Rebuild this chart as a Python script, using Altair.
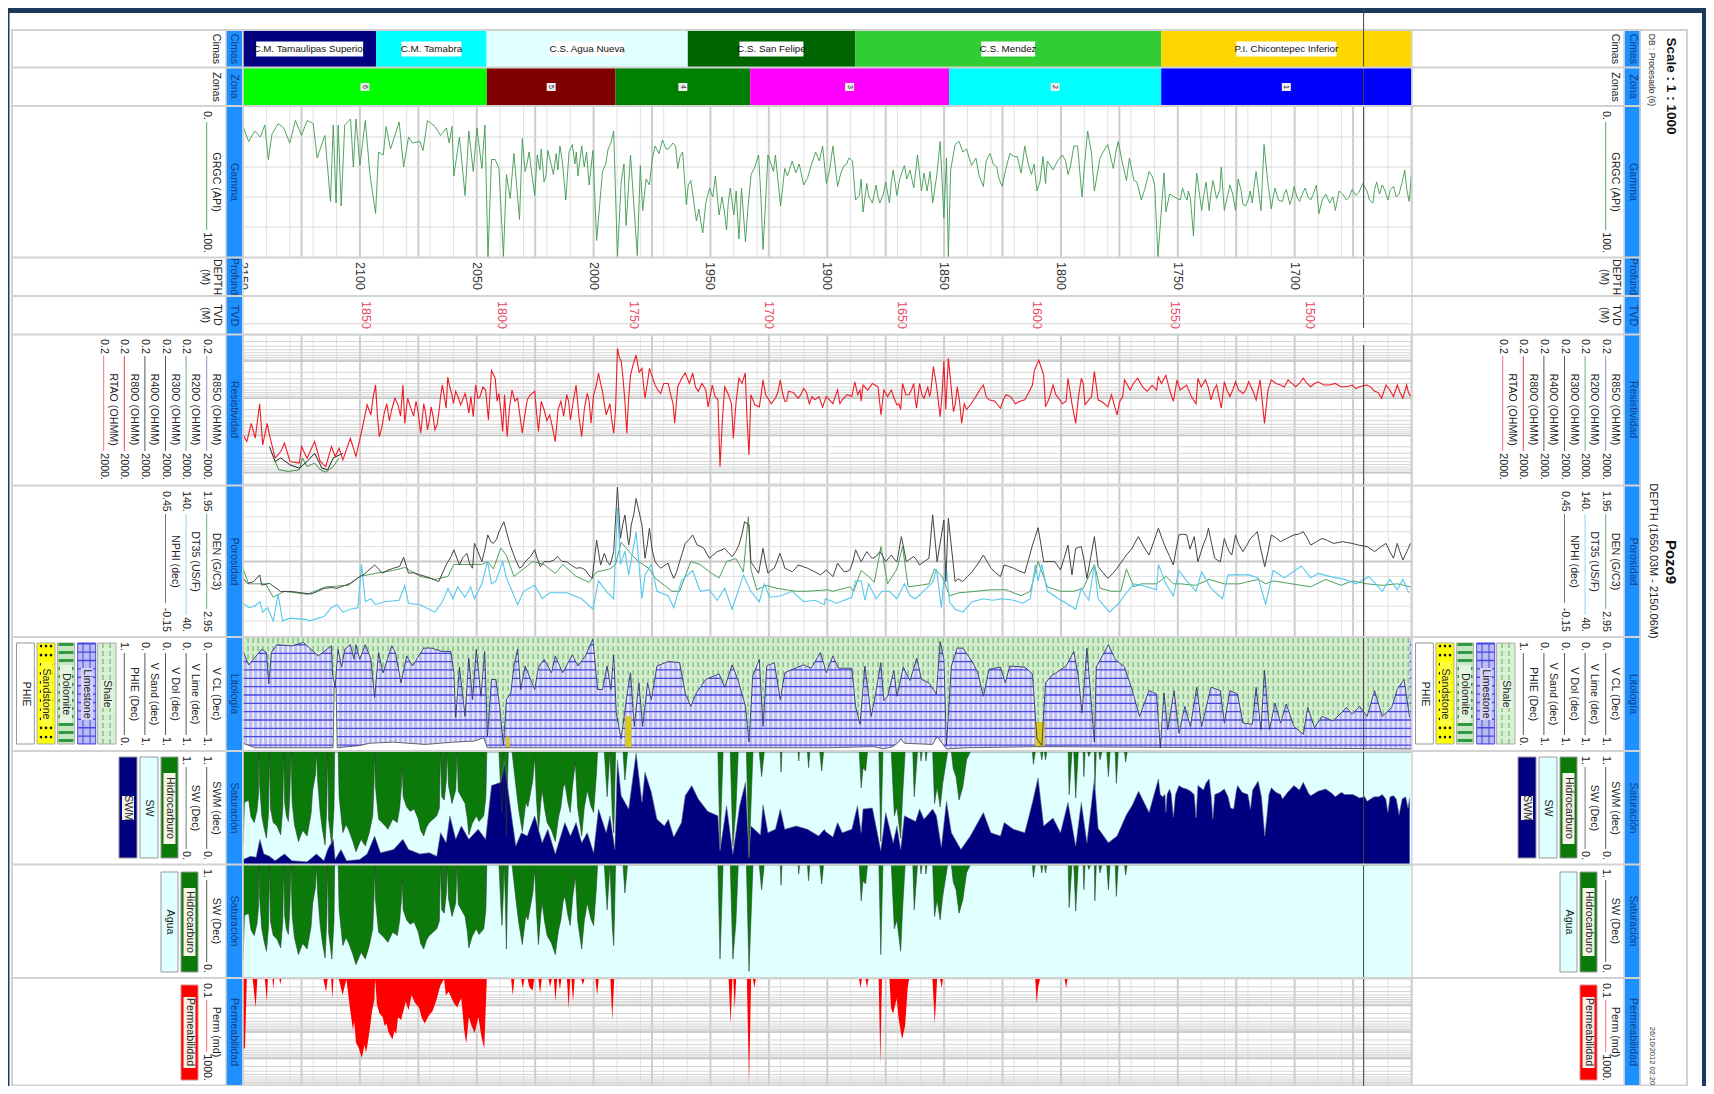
import altair as alt
import numpy as np
import pandas as pd

alt.data_transformers.disable_max_rows()

GR = [(2150,13),(2147.6,23),(2145,16),(2142.6,20),(2140.7,12),(2139.2,35),(2137.6,18),(2135,11),(2132.6,14),(2130,24),(2127.6,9),(2125,19),(2122.6,9),(2120,11),(2118.3,34),(2115,19),(2112.6,63),(2111.4,12),(2110.2,64),(2109.3,12),(2108,66),(2106.5,12),(2104,8),(2102.8,40),(2101.7,8),(2100,39),(2097.7,9),(2095.7,45),(2093.3,71),(2092,30),(2090,32),(2088.8,13),(2086.9,28),(2083.2,10),(2081.3,40),(2079.2,20),(2077.5,24),(2074.3,23),(2073,29),(2071.1,9),(2067.9,13),(2065.5,19),(2063,14),(2061.8,24),(2060.6,13),(2059.8,46),(2057.4,20),(2055,59),(2053.4,16),(2051.5,43),(2049.9,14),(2047.8,41),(2046.5,12),(2045.2,100),(2043.7,35),(2042.1,35),(2040.5,41),(2038.6,100),(2037.3,45),(2035.7,61),(2034.1,31),(2031.7,75),(2030.5,21),(2029.3,43),(2027.6,30),(2025.2,59),(2024.1,32),(2021.2,50),(2019.6,29),(2017.2,45),(2014.4,26),(2011.9,62),(2009.1,25),(2006.7,46),(2005.1,26),(2001.9,52),(2000.3,29),(1998.7,89),(1996.2,43),(1993.8,28),(1991.4,16),(1989.8,100),(1988.2,50),(1986.1,79),(1984.2,32),(1981.3,99),(1980,39),(1979,69),(1976.1,52),(1973.7,26),(1970.5,22),(1968,28),(1964.9,26),(1964,41),(1961.9,30),(1960.3,65),(1958.4,49),(1956,76),(1953.3,84),(1950.4,54),(1947.9,46),(1946.3,72),(1943.1,82),(1941.5,54),(1937.8,88),(1936.7,54),(1935,90),(1932.6,45),(1929.4,32),(1927.5,95),(1925.4,32),(1923,43),(1922.2,32),(1920,66),(1918.2,41),(1915,36),(1910.1,52),(1906.9,39),(1902,26),(1900.4,51),
(1897.6,26),(1895.6,53),(1892.8,39),(1890.8,34),(1889.2,36),(1887.9,62),(1886.3,59),(1884.7,70),(1883.1,51),(1880.7,64),(1879.1,52),(1877.5,64),(1875,50),(1873.4,64),(1871.8,42),(1870.2,59),(1867,39),(1864.6,42),(1863,54),(1861.4,32),(1859.7,56),(1858.6,44),(1857.3,56),(1856,43),(1854.9,64),(1853.1,45),(1851.7,23),(1850.1,74),(1849,34),(1848.2,100),(1847.2,42),(1845.3,25),(1843.6,23),(1840.4,28),(1838.3,39),(1836.4,34),(1833.2,53),(1830.3,31),(1827.5,40),(1825.1,53),(1821.9,31),(1818.7,33),(1817.1,44),(1815.5,26),(1812.6,45),(1810.3,56),(1807.7,33),(1806.6,51),(1805.8,36),(1803.4,42),(1799.4,32),(1797,45),(1794.5,26),(1792.9,26),(1791,60),(1788.6,16),(1785.7,56),(1783.3,34),(1780,25),(1777.6,41),(1775.5,23),(1772,49),(1770.7,34),(1768.8,49),(1765.6,62),(1762.3,43),(1759.9,52),(1758.5,100),(1755.9,44),(1755.1,70),(1753.5,58),(1750.3,61),(1747,59),(1744.6,61),(1743.3,86),(1741.9,44),(1739.8,69),(1737.9,50),(1736.6,69),(1735,49),(1733.4,61),(1731.4,40),(1730.1,69),(1727.7,52),(1725.3,69),(1724.2,48),(1722.1,65),(1719.7,61),(1718.1,64),(1716.5,43),(1714.4,69),(1713.1,25),(1710,68),(1708.4,54),(1705.2,63),(1703.6,55),(1702,65),(1700.3,53),(1697.9,63),(1695.5,54),(1693.1,62),(1690.7,52),(1689.6,71),(1686.7,58),(1682.6,69),(1681,56),(1677.8,62),(1675.4,55),(1673.8,59),(1670.9,51),(1669,56),(1666.5,64),(1664.9,50),(1662.5,52),(1660.1,62),(1657.7,53),(1655.3,58),(1652.9,42),(1651,63),(1650,45)]
GR_FINE = [(2028.5,38),(2026.5,44),(2023,42),(2022.4,28),(2020.4,46),(2018.5,36),(2016,31),(2015.3,42),(2013.4,36),(2010.5,30),(2008,38),(2007.4,30),(2004,40),(2003,30),(1994.8,38),(1992.6,24),(1987,38),(1977.5,48),(1975,36),(1972,31),(1969,28),(1966,24),(1963,33),(1959.5,52),(1957.4,60),(1955,68),(1952,64),(1949,60),(1945,60),(1944,70),(1942.4,64),(1940,72),(1939,56),(1934,68),(1931,40),(1928.4,60),(1926.3,60),(1917,46),(1913.5,44),(1912,38),(1908.4,47),(1905,30),(1903.4,36),(1899,42),(1894.2,44),(1891.7,38),(1885.5,48),(1882.2,60),(1878.3,60),(1876,58),(1872.6,50),(1869,48),(1866,48),(1842,30),(1835,46),(1832,36),(1829,38),(1826.5,48),(1824,44),(1820,33),(1816.3,36),(1814,38),(1811.5,38),(1809,50),(1806.2,42),(1801.5,36),(1798,36),(1796,40),(1790,40),(1787,30),(1782,30),(1781.2,28),(1776.5,30),(1774,35),(1767.5,50),(1764,54),(1761,46),(1749,62),(1748,54),(1746,62),(1745.5,56),(1742.6,60),(1741,55),(1738.8,58),(1736,60),(1732,55),(1728.8,60),(1726.5,58),(1723,55),(1721,66),(1719,56),(1717.3,52),(1711.5,50),(1709.2,60),(1707,62),(1704.5,58),(1701,60),(1699,60),(1696.7,58),(1694.3,60),(1692,58),(1688.2,62),(1685,64),(1683.6,60),(1679.5,58),(1676.6,60),(1674.6,57),(1672.5,57),(1668,62),(1665.8,55),(1663.7,58),(1661.3,56),(1659,55),(1656.5,60),(1654,50),(1652,55)]

RES_RED = [(2150,96),(2148.4,145),(2146.5,47),(2144.8,118),(2142.9,14),(2141.6,178),(2139.7,47),(2138.7,96),(2136.3,405),(2133.9,268),(2132.3,160),(2129.9,498),(2125.9,550),(2125,196),(2122.6,405),(2119.4,145),(2117,498),(2114.6,680),(2112.2,196),(2110.6,365),(2108.9,218),(2107.3,450),(2104.1,118),(2101.7,365),(2099.3,78),(2096.9,15),(2095.3,28),(2093.3,4.4),(2091.7,107),(2089.6,25),(2086.4,20),(2083.7,15),(2081.6,4.4),(2080.8,47),(2078.4,17),(2075.1,23),(2074,87),(2072.7,14),(2071.1,70),(2069.5,17),(2067.9,70),(2066,18.5),(2064.7,4.4),(2063.1,18.5),(2062.4,2.7),(2060.6,8.1),(2059,6.5),(2056.9,15),(2055,7.4),(2053.4,25),(2051.5,31),(2050.5,4.4),(2048.6,9),(2046.2,6),(2045,38),(2043.7,1.8),(2042.1,2.9),(2040.5,7.4),(2038.9,78),(2038.1,8.1),(2037,107),(2034.9,6),(2032.5,10),(2030.5,87),(2028.4,11),(2025.2,6.5),(2023.6,78),(2021.2,20),(2018.8,28),(2016.4,145),(2014,12),(2011.5,8),(2009.9,38),(2007.5,4.4),(2005.1,107),(2002.7,7.4),(2001.1,47),(2000,8),(1997.9,2.1),(1996.2,6.5),(1994.6,28),(1991.4,87),(1989.8,.46),(1988.2,1),(1987.4,2.9),(1985.8,87),(1984.2,2.4),(1981.8,.69),(1979.3,1.57),(1978,10),(1976.1,1.57),(1973.7,4.4),(1971.3,7.4),(1968.1,4),(1965.3,47),(1964,4.9),(1960.8,2.1),(1957.6,2.1),(1955.2,6.5),(1952,6),(1951,17),(1949.2,4.4),(1946.8,11),(1945.9,680),(1943.9,4.9),(1942.3,8),(1940.2,118),(1937.8,2.9),(1935.1,2.1),(1933.5,330),(1932.7,8),(1929.1,17),(1927.5,3.2),(1925.4,10),(1922.2,10),(1920.1,3.2),(1918.2,12),(1916.6,6.5),(1912.5,10),(1910.1,5.4),(1907.7,14),(1905.3,11),(1902,17),(1900.4,9),
(1897.6,14),(1895.6,6),(1893.6,11),(1889.5,9),(1888.2,3.6),(1885.5,12),(1884.7,4.4),(1880.7,4),(1878.3,4.9),(1877,28),(1875.8,6),(1872.6,6),(1870.2,15),(1868.6,20),(1867.8,4),(1865,8),(1863,4),(1861.8,18.5),(1860.5,4),(1858.6,10),(1855.7,6.5),(1854.6,1.4),(1853.3,4.4),(1851.7,31),(1850.1,1),(1849.3,20),(1848.2,.85),(1846,23),(1844.4,4.9),(1842.5,47),(1840.4,20),(1836.4,9),(1833.2,4.4),(1830.8,11),(1825.9,18.5),(1823.5,8),(1819.5,14),(1815.5,11),(1812.2,4.4),(1811.4,1.8),(1809.5,.95),(1807.4,2.4),(1806.6,17),(1803.4,4.4),(1801,10),(1797.8,12),(1797,2.9),(1793.7,47),(1791.3,2.9),(1789.7,15),(1788.1,11),(1785.7,1.9),(1784.1,11),(1780,17),(1778.4,8),(1776,28),(1773.6,9),(1772.8,3.2),(1770.4,6),(1767.2,2.9),(1763.1,6.5),(1759.1,6),(1758.3,2.7),(1755.1,2.4),(1751.9,12),(1750.3,3.2),(1746.2,4.4),(1742.2,14),(1741.4,2.9),(1738.2,3.2),(1735.8,11),(1733.4,4.4),(1731.4,18.5),(1730.1,3.6),(1727.7,9),(1725.3,3.6),(1722.1,7.4),(1719.7,3.6),(1716.5,11),(1714.8,3.2),(1712.9,47),(1710,3.2),(1706,4.4),(1702.8,3.2),(1699.6,4.9),(1696.3,2.9),(1693.1,4.9),(1689.9,3.6),(1685.1,4.4),(1680.2,4.9),(1675.4,4.4),(1672.2,4.9),(1669,4.4),(1665.8,6.5),(1662.8,10),(1660.9,4.4),(1657.7,9),(1656.1,4.4),(1653.7,10),(1652.1,4.4),(1650.4,9)]
RES_FINE = [(2094.3,9),(2092.5,30),(2090.6,60),(2088.5,14),(2087.4,40),(2085,10),(2082.6,30),(2079.6,10),(2077,30),(2076,12),(2073.4,40),(2071.9,25),(2070.3,40),(2068.7,30),(2066.9,50),(2065.4,8),(2061.5,5),(2060,14),(2058,9),(2056,11),(2054.2,12),(2052.5,9),(2049.5,10),(2047.4,5),(2044.4,9),(2041.3,12),(2039.6,25),(2036,18),(2033.7,12),(2031.5,30),(2029.5,30),(2027,8),(2024.4,25),(2022.4,12),(2020,40),(2017.6,60),(2015.2,20),(2012.8,30),(2010.7,12),(2008.7,12),(2006.3,30),(2003.9,18),(2001.9,12),(2000.6,20),(1999,5),(1997,4),(1995.4,14),(1993,14),(1992.2,40),(1990.6,20),(1989,.8),(1986.6,12),(1985,10),(1983,1.2),(1980.5,2),(1978.7,4),(1977,4),(1975,2.5),(1972.5,6),(1970,4),(1967,8),(1966,14),(1962.4,3),(1959,4),(1956.4,5),(1953.6,4),(1948,9),(1944.9,40),(1941,14),(1939,12),(1936.5,4),(1934.4,30),(1931,15),(1928.3,8),(1926.4,8),(1924,14),(1921.2,7),(1919.2,7),(1917.4,12),(1914.5,7),(1911.3,8),(1908.9,7),(1906.5,9),(1903.6,9),
(1896.6,9),(1894.6,14),(1891.5,8),(1887,8),(1886,6),(1882.7,6),(1874.2,9),(1871.4,10),(1869.4,14),(1866.4,8),(1864,6),(1862.4,10),(1859.5,8),(1857,5),(1856.2,9),(1852.5,12),(1850.9,8),(1847,5),(1845.2,14),(1843.4,12),(1841.4,14),(1838.4,14),(1834.8,6),(1832,9),(1828.3,12),(1824.7,11),(1821.5,9),(1817.5,12),(1813.8,7),(1805,10),(1802.2,8),(1799.4,14),(1795.3,14),(1792.5,9),(1790.5,4),(1786.9,9),(1782,13),(1779.2,12),(1777.2,15),(1774.8,12),(1769,4),(1765,5),(1761,4.5),(1757,4),(1753.5,6),(1749,6),(1744.2,9),(1740,5),(1737,5),(1734.6,6),(1732.4,9),(1729,6),(1726.5,6),(1724,6),(1720.9,6),(1718,6),(1711.4,6),(1708,4),(1704.4,5),(1701.2,4),(1698,4),(1694.7,4),(1691.5,4),(1687.5,4.4),(1682.6,4),(1677.8,4.9),(1673.8,5.5),(1670.6,4.6),(1667.4,5),(1664.3,7),(1661.8,6.5),(1659.3,6),(1654.9,7),(1651.3,7)]

RES_GREEN = [(2136.3,498),(2134.7,830),(2130.7,920),(2125.9,830),(2124.6,400),(2122.6,680),(2119.4,550),(2117,830),(2114.6,960),(2111.4,680),(2108.9,400)]
RES_BLACK = [(2138.7,200),(2136.3,498),(2133.9,400),(2129.9,612),(2125.9,750),(2122.6,500),(2119.4,300),(2116.2,750),(2113.8,830),(2111.4,400),(2107.3,300)]

NPHI = [(2150,.082),(2148.1,.062),(2145.5,.069),(2142.9,.096),(2142,.055),(2138.7,.062),(2133.9,.029),(2129.1,.029),(2121,.019),(2115.4,.042),(2109.8,.042),(2104.1,.062),(2100.1,.089),(2096.1,.116),(2093.7,.136),(2090.4,.103),(2085.6,.123),(2081.3,.167),(2079.2,.103),(2074.3,.096),(2069.5,.082),(2066.3,.069),(2063.1,.136),(2059.8,.197),(2057.4,.136),(2054.2,.183),(2051.8,.123),(2051,.223),(2047.8,.149),(2045.3,.257),(2042.9,.223),(2040.5,.27),(2038.4,.31),(2035.7,.216),(2031.7,.123),(2029.3,.149),(2025.2,.197),(2022.8,.129),(2018.8,.149),(2015.6,.17),(2011.5,.149),(2007.5,.123),(2003.5,.116),(2000.6,.082),(1998.7,.236),(1997,.136),(1995.4,.183),(1993,.136),(1991.4,.19),(1989.8,.45),(1988.5,.243),(1986.6,.337),(1985,.216),(1983.9,.297),(1981.8,.404),(1979.3,.297),(1978,.163),(1976.1,.284),(1973.7,.149),(1971.3,.123),(1968.1,.143),(1965.7,.082),(1963.2,.149),(1960.8,.223),(1957.6,.257),(1955.7,.216),(1952.8,.203),(1950.4,.163),(1947.1,.19),(1943.9,.203),(1940.7,.17),(1937.8,.216),(1935.4,.31),(1933.5,.297),(1932.7,.149),(1929.4,.103),(1927.5,.203),(1925.4,.103),(1922.7,.123),(1920.3,.183),(1918.2,.123),(1915,.109),(1912.5,.136),(1908.5,.123),(1902.9,.096),(1900.4,.116),
(1897.6,.089),(1895.6,.143),(1892.8,.109),(1890.3,.116),(1887.9,.197),(1885.5,.149),(1883.1,.19),(1880.7,.163),(1877.5,.19),(1875,.149),(1872.6,.176),(1870.2,.149),(1868.3,.25),(1866.2,.149),(1863,.17),(1860.5,.136),(1856.5,.163),(1854.9,.338),(1853,.149),(1850.1,.317),(1849.3,.069),(1848.2,.324),(1845.3,.069),(1842,.069),(1838,.109),(1833.2,.176),(1830,.123),(1825.9,.089),(1824.3,.136),(1820.3,.123),(1815.5,.103),(1812.2,.216),(1809.8,.286),(1807.4,.149),(1802.6,.149),(1800.2,.116),(1797,.216),(1795.3,.096),(1793.7,.203),(1791.3,.21),(1788.9,.082),(1785.7,.25),(1784.1,.129),(1780,.082),(1776,.123),(1772,.176),(1769.6,.203),(1766.9,.25),(1762.3,.176),(1758.3,.284),(1755.1,.203),(1751.9,.136),(1749.5,.257),(1746.2,.257),(1741.4,.149),(1736.9,.284),(1734.2,.163),(1731.8,.149),(1730.1,.243),(1726.9,.176),(1725.3,.257),(1722.1,.19),(1718.9,.243),(1716,.27),(1712.8,.129),(1710,.257),(1706,.23),(1700.3,.257),(1696.3,.27),(1693.1,.216),(1688.3,.243),(1683.5,.223),(1679.4,.23),(1675.4,.223),(1669,.21),(1665.8,.19),(1660.9,.223),(1657.7,.163),(1656.1,.223),(1653.7,.156),(1650.4,.223)]
NPHI_FINE = [(2118,.03),(2112,.045),(2098,.10),(2092,.12),(2088,.115),(2083,.13),(2077,.105),(2072,.09),(2061,.17),(2056,.165),(2053,.14),(2049.5,.19),(2046.5,.2),(2044,.23),(2041.5,.24),(2037,.26),(2033.5,.16),(2030.5,.13),(2027,.17),(2024,.16),(2021,.15),(2017,.155),(2013.5,.15),(2009.5,.135),(2005.5,.125),(2002,.095),(1996.2,.16),(1994.2,.15),(1992.2,.16),(1987.5,.3),(1984.4,.25),(1982.8,.34),(1977,.22),(1975,.2),(1972.5,.135),(1969.5,.135),(1967,.11),(1964.4,.11),(1962,.185),(1959,.24),(1954,.21),(1951.5,.18),(1949,.175),(1945.5,.195),(1942.3,.185),(1939.2,.19),(1936.5,.26),(1931,.125),(1926.5,.15),(1924,.115),(1921.5,.15),(1919,.15),(1916.5,.115),(1913.8,.12),(1910.5,.13),(1905.7,.11),
(1896.6,.115),(1894.2,.125),(1891.5,.11),(1889,.15),(1884.3,.17),(1881.9,.175),(1879.1,.17),(1876.2,.17),(1871.4,.16),(1869.2,.2),(1867.2,.2),(1864.6,.16),(1861.7,.155),(1858.5,.15),(1844,.08),(1840,.09),(1835.6,.14),(1831.6,.15),(1828,.105),(1822.3,.13),(1818,.112),(1813.8,.16),(1811,.25),(1808.6,.22),(1805,.15),(1798.6,.165),(1794.5,.15),(1792.5,.207),(1790,.15),(1787.3,.165),(1782,.105),(1778,.1),(1774,.15),(1764.6,.21),(1760.3,.23),(1756.7,.24),(1753.5,.17),(1750.7,.2),(1747.8,.26),(1744.8,.2),(1743,.25),(1739,.22),(1737.7,.25),(1735.5,.22),(1733,.155),(1729,.21),(1728,.19),(1724,.22),(1720.5,.215),(1717.4,.256),(1714.5,.2),(1711.4,.19),(1708,.245),(1703,.245),(1698.3,.26),(1694.7,.245),(1690.7,.23),(1686,.235),(1681.5,.226),(1677.4,.226),(1672.2,.215),(1667.4,.2),(1663,.21),(1659.3,.19),(1655,.19),(1652,.19)]

DEN = [(2150,2.50),(2147.6,2.60),(2143.6,2.60),(2140.3,2.60),(2137.1,2.69),(2132.3,2.65),(2122.6,2.67),(2114.6,2.62),(2104.9,2.61),(2100,2.55),(2093.6,2.53),(2085.6,2.51),(2080.8,2.49),(2074.3,2.55),(2067.9,2.57),(2062.3,2.55),(2059.8,2.47),(2055,2.47),(2047.8,2.47),(2045.4,2.45),(2042.9,2.50),(2039.7,2.36),(2037.3,2.41),(2034.1,2.55),(2030,2.50),(2026,2.45),(2021.2,2.47),(2016.4,2.53),(2013.2,2.47),(2007.5,2.55),(2001.9,2.59),(1998.7,2.52),(1993,2.50),(1990.6,2.47),(1988.2,2.32),(1983.4,2.41),(1980.7,2.45),(1976.1,2.50),(1973.7,2.56),(1969.7,2.61),(1966.5,2.65),(1963.2,2.65),(1958.4,2.45),(1954.4,2.47),(1950.4,2.52),(1946.3,2.56),(1943.1,2.45),(1939.1,2.43),(1935.9,2.52),(1933.8,2.15),(1932.7,2.50),(1930.2,2.64),(1926.2,2.61),(1921.6,2.63),(1913.3,2.65),(1908.5,2.65),(1900,2.64),
(1897.6,2.65),(1890.3,2.62),(1888.7,2.65),(1885.5,2.51),(1882.3,2.55),(1879.9,2.59),(1877,2.35),(1874.2,2.60),(1870.2,2.50),(1867.8,2.35),(1865.4,2.62),(1860.5,2.61),(1856.5,2.60),(1854.1,2.50),(1850.9,2.55),(1847.7,2.68),(1843.6,2.66),(1836.4,2.65),(1830,2.64),(1823.5,2.64),(1817.1,2.68),(1813.1,2.65),(1809.8,2.45),(1805.8,2.62),(1800.2,2.65),(1794.5,2.65),(1790.5,2.63),(1785.7,2.47),(1783.3,2.63),(1778.4,2.65),(1774.4,2.65),(1772,2.50),(1768.8,2.62),(1765.6,2.60),(1759.1,2.60),(1755.1,2.55),(1751.9,2.60),(1748.7,2.60),(1742.2,2.61),(1736.6,2.57),(1730.1,2.60),(1723.7,2.60),(1715.6,2.57),(1712.4,2.60),(1709.2,2.58),(1701.2,2.60),(1693.1,2.62),(1686.7,2.57),(1680.2,2.61),(1675.4,2.58),(1669,2.60),(1662.5,2.61),(1656.1,2.60),(1650.4,2.62)]

DT = [(2150,62),(2147.6,59),(2145.2,60),(2142.8,63),(2141.6,56),(2139.5,59),(2137.1,50),(2135,68),(2133.1,50),(2129.9,52),(2122.6,51),(2121.8,50),(2115.4,53),(2112.2,59),(2109.8,61),(2107.3,56),(2104.1,58),(2100.9,59),(2099.3,88),(2097.7,63),(2095.3,65),(2093.3,61),(2089.6,63),(2083.2,64),(2080.8,74),(2079.2,62),(2074.3,61),(2067.9,56),(2064.7,63),(2062.3,72),(2060.2,65),(2058.2,73),(2055,66),(2052.6,73),(2051,65),(2047.8,75),(2045.4,90),(2043.7,75),(2041.8,77),(2038.9,90),(2037.3,79),(2032.5,61),(2030,70),(2025.2,74),(2022,65),(2018.8,69),(2011.5,69),(2005.1,65),(2000.3,58),(1997.9,77),(1994.6,70),(1991.4,65),(1989.8,126),(1988.5,88),(1986.6,97),(1985,81),(1981.8,110),(1979.3,65),(1978,81),(1975.3,88),(1972.9,70),(1968.1,67),(1965.7,59),(1962.4,77),(1957.6,84),(1954.4,70),(1950.4,71),(1947.1,64),(1943.9,72),(1940.7,58),(1935.9,81),(1932.7,70),(1929.1,63),(1927,75),(1924.6,66),(1919.8,67),(1915,70),(1910.1,63),(1905.3,64),(1901.3,61),
(1900.8,65),(1896,62),(1889.5,66),(1887.9,77),(1885.5,77),(1883.9,64),(1882.3,75),(1879.1,65),(1876.6,70),(1873.4,70),(1870.2,65),(1867,75),(1864.6,67),(1862.2,65),(1858.9,70),(1854.9,76),(1853.3,85),(1851.2,59),(1849.3,90),(1847.7,63),(1845.3,58),(1842,56),(1838,63),(1833.2,65),(1829.2,64),(1825.1,65),(1820.3,64),(1816.3,62),(1813.1,65),(1811,88),(1809.8,77),(1808.2,88),(1805.8,70),(1801,65),(1797.8,62),(1793.7,58),(1791.3,72),(1788.1,64),(1785.7,88),(1784.1,65),(1779.2,56),(1775.2,62),(1772,69),(1768.8,75),(1765.6,74),(1759.1,71),(1758.3,88),(1755.1,75),(1751.9,67),(1749.5,84),(1746.2,77),(1742.2,70),(1739.8,83),(1735.8,72),(1730.9,65),(1728.5,81),(1723.7,81),(1719.7,81),(1715.6,79),(1712.4,61),(1709.2,84),(1704.4,79),(1697.1,87),(1693.1,79),(1689.9,82),(1685.1,80),(1678.6,78),(1673.8,75),(1668.2,80),(1662.5,70),(1659.3,78),(1656.1,71),(1653.7,78),(1651.2,69)]

VCL = [(2150,.12),(2147.6,.24),(2142,.10),(2140,.13),(2139,.41),(2137.9,.13),(2135.5,.06),(2129.1,.07),(2124.2,.04),(2117.8,.16),(2112.2,.07),(2111.7,.32),(2110.6,.44),(2109.4,.10),(2107.8,.26),(2106.5,.10),(2104.1,.06),(2102.5,.19),(2101.7,.06),(2100.1,.19),(2097.7,.06),(2095.3,.19),(2093.7,.53),(2092,.13),(2090.1,.31),(2086.4,.07),(2084.8,.13),(2082.4,.40),(2080,.16),(2077.5,.25),(2072.7,.09),(2069.5,.09),(2064.7,.12),(2061.1,.12),(2059.8,.31),(2059,.71),(2057.4,.26),(2055,.70),(2053.4,.18),(2051.8,.55),(2050.2,.10),(2048.2,.52),(2046.6,.12),(2045.4,.88),(2043.7,.37),(2041.8,.37),(2040.2,.61),(2038.6,.96),(2037.3,.55),(2035.4,.49),(2034.1,.25),(2032.5,.10),(2031.2,.46),(2029.3,.25),(2025.2,.46),(2023.6,.26),(2021.2,.19),(2018,.31),(2016.4,.16),(2013.2,.31),(2009.1,.15),(2006.7,.25),(2003.5,.16),(2000.3,.01),(1998.3,.46),(1996.2,.46),(1994.2,.25),(1992.6,.46),(1991.4,.15),(1990.3,.67),(1988.2,.9),(1985.8,.52),(1984.2,.31),(1982.6,.79),(1980.6,.40),(1979,.79),(1976.9,.40),(1975.3,.55),(1972.9,.25),(1968,.21),(1963.2,.22),(1960.8,.49),(1958.4,.61),(1956,.49),(1952,.37),(1946.3,.32),(1943.9,.44),(1940.7,.24),(1938.3,.37),(1935,.61),(1933.5,.93),(1931.9,.34),(1929.1,.19),(1927.5,.79),(1925.9,.25),(1922.7,.22),(1920.1,.55),(1918.2,.31),(1915,.28),(1910.1,.24),(1906.9,.27),(1902.9,.13),(1900.4,.31),
(1897.6,.16),(1895.2,.27),(1889.5,.27),(1887.9,.61),(1886,.77),(1883.9,.25),(1881.2,.70),(1879.1,.47),(1877.1,.22),(1875.8,.56),(1874.2,.52),(1871.5,.29),(1870.2,.52),(1867.5,.26),(1864.6,.38),(1861.7,.18),(1859.7,.37),(1856.5,.40),(1853.3,.50),(1851.7,.03),(1850.1,.19),(1849,.96),(1846.9,.25),(1844.4,.09),(1842,.09),(1838,.21),(1835.6,.31),(1833.2,.52),(1830.8,.28),(1825.9,.26),(1823.8,.40),(1821.9,.25),(1815.5,.26),(1812.2,.32),(1810.3,.90),(1808.2,.96),(1806.6,.40),(1804.2,.34),(1797.8,.25),(1794.5,.12),(1792.6,.34),(1791,.67),(1788.9,.09),(1785.7,.93),(1784.9,.26),(1779.7,.06),(1776.8,.19),(1772.8,.26),(1769.6,.46),(1766.4,.70),(1762.3,.47),(1759.1,.50),(1757.5,.98),(1755.9,.49),(1754.3,.82),(1751.6,.47),(1749.5,.85),(1747,.61),(1744.6,.79),(1741.9,.44),(1739.8,.79),(1735.8,.44),(1731.8,.47),(1730.1,.76),(1727.7,.47),(1724.5,.50),(1722.1,.76),(1718.1,.77),(1716.5,.44),(1714.4,.82),(1712.9,.29),(1710.8,.82),(1708.4,.58),(1706,.76),(1703.6,.59),(1700.3,.79),(1696.3,.86),(1694.4,.62),(1691.5,.80),(1688.3,.70),(1683.5,.74),(1677.8,.62),(1675.4,.68),(1672.2,.61),(1669,.70),(1665.8,.47),(1662.5,.70),(1658.5,.62),(1656.1,.46),(1653.2,.37),(1650.8,.71)]

PHIE = [(2150,.06),(2145,.02),(2111.5,.02),(2111,.56),(2110.2,.56),(2109.7,.02),(2100,.04),(2096,.06),(2086,.07),(2072,.05),(2060,.07),(2051,.08),(2047,.11),(2045.5,.02),(2035,.02),(1990,.02),(1900,.02),(1880,.03),(1876,.01),(1872,.03),(1870,.06),(1868.5,.1),(1867,.06),(1855,.05),(1853,.12),(1849,.01),(1840,.02),(1810,.03),(1808,.03),(1650,.01)]

# sandstone patches: depth from, depth to, fraction from, fraction to
SAND = [(1986.5,1983.8,.70,.98),(1811,1807,.75,.97),(2037.5,2036,.88,.98)]

SW = [(2150,.16),(2149.4,.55),(2147.6,.57),(2146.6,.42),(2145.2,.37),(2144,.48),(2143.4,.62),(2143.2,1),(2142.9,.7),(2142,.43),(2141,.32),(2140,.23),(2139.1,.45),(2138.7,1),(2138.3,.5),(2137.1,.37),(2135.5,.34),(2133.9,.26),(2133,.5),(2132.6,1),(2132.2,.55),(2131.5,.43),(2130.6,.38),(2130,.6),(2129.5,1),(2129,.55),(2128,.35),(2126.3,.2),(2124.5,.3),(2122.6,.25),(2120.9,.45),(2120.2,.66),(2119,.8),(2118.6,1),(2118.1,.75),(2117,.46),(2116,.3),(2114.9,.17),(2114.2,.5),(2113.8,1),(2113.4,.4),(2112,.16),(2111.1,.5),(2110.8,1),(2109.3,1),(2108.9,.6),(2107.3,.28),(2106,.35),(2104.9,.31),(2103,.2),(2101.7,.11),(2099.5,.22),(2097.7,.16),(2096,.28),(2094.5,.43),(2094,.7),(2093.7,1),(2093.4,.7),(2092,.4),(2090,.36),(2088,.31),(2086,.4),(2084,.37),(2083,.5),(2082.2,.7),(2081.9,.87),(2081.5,.6),(2080,.51),(2078.5,.47),(2076.8,.49),(2075,.4),(2074,.3),(2072.7,.25),(2071.5,.33),(2070.3,.37),(2068.7,.4),(2067.1,.43),(2066,.5),(2065.5,1),(2065,.6),(2063.9,.57),(2063,.75),(2062.6,1),(2062.1,.7),(2060.6,.54),(2059,.66),(2058.4,1),(2057.9,.65),(2055,.54),(2054,.4),(2053.4,.26),(2052,.36),(2050.2,.43),(2049,.38),(2047,.43),(2046.1,.6),(2045.7,1),(2040.5,1),(2039.6,.6),(2039.2,.46),(2038.7,.7),(2038.3,1),(2037.8,.7),(2037.3,.25),(2036.9,.7),(2036.5,1),(2034.9,1),(2033,.65),(2032,.48),(2030.5,.29),(2029,.55),(2028.1,.51),(2026,.75),(2025.2,.96),(2024.5,.6),(2023.6,.29),(2022.6,.55),(2022,.66),(2021,.5),(2019.9,.37),(2018,.3),(2016.4,.2),(2015,.42),(2014,.51),(2013,.68),(2012.3,.72),(2011,.55),(2010,.46),(2009,.7),(2007.8,.9),(2006.8,.5),(2005.1,.25),(2004,.5),(2002.7,.66),(2001.2,.52),(2000,.46),(1998.8,.8),(1998.3,1),(1995.4,1),(1994.2,.6),(1993,1),(1992,.45),(1991.4,.28),(1991,.6),(1990.6,1),(1987.4,1),(1986.6,.75),(1985.5,1),(1946.8,1),(1945.9,.16),(1944.6,1),(1941.5,1),(1940.4,.16),(1939.1,.49),(1938.1,1),(1934.6,1),(1933.5,.05),(1931.8,1),(1929.1,1),(1928.1,.78),(1927,1),(1920.1,1),(1919.8,.82),(1919.4,1),(1912.5,1),(1912.2,.92),(1911.9,1),(1908.5,1),(1908,.86),(1907.5,1),(1903.2,1),(1902.4,.83),(1901.6,1),
(1886.3,1),(1885.5,.68),(1884.7,.86),(1883.6,.83),(1882.8,1),(1877.9,1),(1877.1,.2),(1876.2,1),(1872.6,1),(1871.3,.43),(1870.2,.51),(1868.6,.23),(1867.8,.6),(1866.7,1),(1863.4,1),(1862.8,.6),(1861.4,1),(1860.2,1),(1859.9,.92),(1859.4,1),(1858.1,1),(1857.8,.92),(1857.3,1),(1854.9,1),(1854.1,.54),(1853,.69),(1851.7,.51),(1850.6,.72),(1848.5,1),(1846.9,1),(1846.1,.85),(1844.9,.78),(1843.6,.57),(1842,.69),(1840.4,.93),(1838.8,1),(1812.2,1),(1811.8,.89),(1811,1),(1808.7,1),(1808.2,.93),(1807.7,1),(1807.1,1),(1806.6,.93),(1806.1,1),(1796.9,1),(1796.5,.62),(1795.3,1),(1794.5,1),(1793.7,.59),(1792.6,1),(1790.5,1),(1790.2,.78),(1789.7,1),(1788.6,1),(1788.1,.96),(1787.3,1),(1785.7,1),(1785.5,.68),(1784.9,1),(1783.8,1),(1783.3,.93),(1782.5,1),(1780.4,1),(1779.7,.78),(1779,1),(1776.8,1),(1776.3,.72),(1775.5,1),(1772.8,1),(1772.3,.91),(1771.7,1),(1650,1)]

SWM = [(2150,.04),(2146.8,.07),(2144.4,.06),(2142.8,.22),(2141.1,.09),(2138.7,.07),(2136.3,.03),(2132.3,.09),(2129.1,.03),(2122.6,.02),(2118.6,.09),(2115.4,.03),(2113.8,.13),(2111.4,.22),(2110.6,.04),(2108.1,.13),(2105.7,.03),(2100.1,.04),(2096.9,.09),(2093.7,.25),(2091.2,.10),(2085.6,.13),(2081.6,.22),(2079.2,.13),(2074.3,.09),(2070.3,.10),(2067.1,.07),(2065.5,.28),(2063.1,.19),(2061.5,.43),(2059,.22),(2056.6,.34),(2053.4,.22),(2049.4,.31),(2046.2,.22),(2043.7,.70),(2039.7,.73),(2038.1,.90),(2035.7,.52),(2033.3,.16),(2030.9,.28),(2028.4,.25),(2025.2,.43),(2022,.19),(2019.6,.31),(2016.4,.09),(2012.3,.37),(2009.9,.25),(2007.5,.37),(2005.1,.19),(2002.7,.28),(2000,.10),(1997.9,.49),(1994.6,.28),(1993,.43),(1990.9,.13),(1989.8,.93),(1988.2,.61),(1985,.49),(1981.8,.99),(1979.3,.55),(1978,.82),(1975.3,.64),(1972.9,.40),(1969.7,.34),(1968,.40),(1965.7,.24),(1962.4,.37),(1960.8,.61),(1958,.70),(1955.2,.58),(1951.2,.47),(1946.8,.43),(1945.9,.12),(1943.1,.52),(1940.4,.09),(1937.5,.52),(1935,.73),(1933.5,.06),(1932.7,.34),(1928.6,.26),(1927.5,.53),(1925.4,.28),(1922.2,.31),(1920.1,.49),(1918.2,.31),(1913.3,.34),(1908.5,.31),(1903.7,.25),(1901.2,.31),
(1900.8,.29),(1897.6,.24),(1895.6,.37),(1893.6,.28),(1889.5,.31),(1887.1,.52),(1885.5,.28),(1884.7,.49),(1880.7,.50),(1877.1,.12),(1875,.46),(1871.8,.19),(1870.2,.34),(1868.6,.13),(1867,.43),(1862.2,.38),(1860.5,.49),(1858.6,.40),(1854.9,.49),(1853.3,.43),(1851.2,.15),(1849,.56),(1846.9,.28),(1842.8,.13),(1838.8,.25),(1833.2,.46),(1830,.28),(1825.9,.25),(1824.3,.37),(1820.3,.31),(1815.5,.28),(1812.2,.55),(1809.8,.77),(1807.4,.34),(1803.4,.41),(1800.2,.28),(1797,.55),(1793.7,.16),(1791.3,.55),(1788.9,.19),(1785.7,.76),(1784.1,.32),(1779.7,.19),(1776,.25),(1772,.44),(1769.6,.52),(1766.8,.65),(1762.3,.46),(1758.3,.76),(1757.5,.62),(1756.5,.6),(1755.5,.62),(1755.1,.46),(1754.6,.62),(1753.5,.67),(1752.8,.62),(1751.9,.42),(1751,.62),(1749.5,.70),(1748,.68),(1746.2,.67),(1744.5,.65),(1743,.62),(1742.2,.41),(1741.4,.70),(1739,.66),(1738,.72),(1736.6,.76),(1735.7,.6),(1735,.40),(1734.2,.62),(1732,.64),(1730.1,.67),(1728.5,.6),(1727.4,.5),(1726.1,.49),(1725,.65),(1724.4,.70),(1722.5,.64),(1720,.62),(1718.9,.49),(1718,.66),(1715.6,.74),(1714.2,.6),(1712.8,.25),(1712,.4),(1711,.62),(1710,.68),(1708,.64),(1706,.62),(1705.2,.58),(1703,.64),(1700.3,.70),(1698,.66),(1696.3,.73),(1694,.63),(1693.1,.61),(1690,.65),(1686.7,.67),(1684,.63),(1682.6,.6),(1680,.64),(1678.6,.62),(1675,.62),(1672.2,.59),(1670,.6),(1669,.56),(1666,.6),(1664,.6),(1662.5,.62),(1661,.58),(1660.1,.46),(1659.2,.6),(1657.7,.61),(1656.5,.58),(1655.3,.44),(1654,.58),(1652.5,.6),(1651.5,.5),(1650.8,.59)]

PERM = [(2150,42),(2149.2,42),(2148.4,.1),(2145.9,.1),(2144.6,1.2),(2143.9,.1),(2140.7,.1),(2139.8,.71),(2139.4,.1),(2137.4,.1),(2137.1,.25),(2136.7,.1),(2134.4,.1),(2134.1,.16),(2133.6,.1),(2115.6,.1),(2114.5,.31),(2113.8,.1),(2112.3,.1),(2111.8,.54),(2111.3,.1),(2109,.1),(2107.4,.41),(2105.8,.1),(2104.1,1.6),(2103,8),(2102.4,4),(2101.7,25),(2100.5,40),(2099.2,95),(2098,30),(2097.4,60),(2096.8,32),(2095.8,8),(2094.8,1.6),(2093.8,.6),(2093.5,.1),(2092.7,.93),(2091.6,2),(2090.2,2.8),(2089.4,6),(2088.6,4.8),(2087.8,10),(2086.1,19),(2085.2,9),(2084.5,12),(2083.7,2.8),(2082.4,3.5),(2081.2,1.4),(2080.4,.71),(2079.2,1.5),(2077.9,.41),(2076.4,.8),(2074.7,1.2),(2073.5,3),(2072.2,4.8),(2070.6,2.5),(2068.9,1.6),(2067.2,.6),(2065.6,.18),(2064,.1),(2063.2,.41),(2062,.3),(2060.7,.54),(2059.5,.9),(2058.3,1.2),(2057.4,.7),(2056.6,.54),(2055.4,8),(2054.5,28),(2053.4,2.8),(2052.2,6),(2050.9,11),(2050,5),(2049.3,2.8),(2048,15),(2046.8,42),(2045.7,.1),(2035.3,.1),(2034.6,.41),(2033.9,.1),(2031,.1),(2030.3,.22),(2029.6,.1),(2028.2,.1),(2027.5,.2),(2026.1,.27),(2025.4,.1),(2023.6,.1),(2022.9,.35),(2022.2,.1),(2019.3,.1),(2018.6,.2),(2017.9,.1),(2017,.1),(2016.3,.7),(2015.6,.1),(2015,.1),(2014.4,.25),(2013.8,.1),(2011.4,.1),(2010.7,1.3),(2010,.1),(2009.5,.1),(2008.8,.7),(2008.1,.1),(2005.3,.1),(2004.6,.17),(2003.9,.1),(1999.2,.1),(1998.5,.41),(1997.8,.1),(1992.8,.1),(1992,3.5),(1991.2,.1),(1942.2,.1),(1941.4,4.9),(1940.6,.1),(1940.2,.1),(1939.6,1.3),(1939,.1),(1934.4,.1),(1933.5,1000),(1932.6,.1),(1931.8,.1),(1931.2,.22),(1930.6,.1),(1886.4,.1),(1885.8,.22),(1885.2,.1),(1883.6,.1),(1883,.22),(1882.4,.1),(1878,.1),(1877.3,170),(1876.6,.1),(1873.4,.1),(1872.7,1.3),(1871.8,2),(1870.3,.54),(1869.5,3),(1868,18.6),(1866.7,6),(1865.6,.22),(1865,.1),(1855,.1),(1854,4.9),(1853,.1),(1851.7,.1),(1851.1,.22),(1850.5,.1),(1811,.1),(1810.4,.84),(1809.8,.22),(1809,.1),(1798.4,.1),(1797.8,.22),(1797.2,.1),(1650,.1)]

CIMAS = [("C.M. Tamaulipas Superior",2150,2093,"#000080",107),("C.M. Tamabra",2093,2045.8,"#00ffff",60),("C.S. Agua Nueva",2045.8,1959.7,"#e0ffff",73),("C.S. San Felipe",1959.7,1888.1,"#006400",64),("C.S. Mendez",1888.1,1757.1,"#32cd32",54),("P.I. Chicontepec Inferior",1757.1,1650.03,"#ffd700",100)]
ZONAS = [("6",2150,2045.7,"#00ff00"),("5",2045.7,1990.6,"#800000"),("4",1990.6,1933,"#008000"),("3",1933,1847.9,"#ff00ff"),("2",1847.9,1757.1,"#00ffff"),("1",1757.1,1650.03,"#0000ff")]
DEPTH_LABELS = [2150,2100,2050,2000,1950,1900,1850,1800,1750,1700]
TVD_LABELS = [(2097.3,1850),(2039.2,1800),(1982.6,1750),(1925.1,1700),(1868,1650),(1810.4,1600),(1751,1550),(1693.5,1500)]
MARKER_DEPTH = [1670.5]

def merged(a, b):
    return sorted(a + b, key=lambda p: -p[0])

GR_ALL = merged(GR, GR_FINE)
RES_ALL = merged(RES_RED, RES_FINE)
NPHI_ALL = merged(NPHI, NPHI_FINE)

# ---------- layout (page pixels) ----------
W, H = 1698, 1078
M = 8
P0, P1 = 243, 1411.5
K = 500.03 / (P1 - P0)
XS = alt.Scale(domain=[2150.03 + (P0 - M) * K, 2150.03 - (M + W - P0) * K], nice=False, zero=False)
X = lambda f="d": alt.X(f + ":Q", scale=XS, axis=None)
X2 = lambda f: alt.X2(f)

ROW = dict(cim=(31,67), zon=(68,105), gam=(107,257), dep=(258,295), tvd=(297,334), res=(335,484),
           por=(487,636), lit=(638,750), sa1=(752,864), sa2=(865,977), per=(979,1085))
FONT = "Liberation Sans"
ONE = alt.Data(values=[{"k": 1}])
L = []

def ys(dom, row, log=False):
    t, b = ROW[row]
    kw = dict(domain=dom, range=[t - M, b - M], nice=False, zero=False)
    if log:
        kw["type"] = "log"
    return alt.Scale(**kw)

def rect(x0, x1, y0, y1, fill, stroke=None, sw=1, opacity=None):
    kw = dict(fill=fill)
    if stroke:
        kw.update(stroke=stroke, strokeWidth=sw)
    if opacity is not None:
        kw["opacity"] = opacity
    L.append(alt.Chart(ONE).mark_rect(**kw).encode(x=alt.value(x0 - M), x2=alt.value(x1 - M), y=alt.value(y0 - M), y2=alt.value(y1 - M)))

def vline(x, y0, y1, color, sw=1, dash=None, cap=None):
    kw = dict(color=color, strokeWidth=sw)
    if dash:
        kw["strokeDash"] = dash
    if cap:
        kw["strokeCap"] = cap
    L.append(alt.Chart(ONE).mark_rule(**kw).encode(x=alt.value(x - M), y=alt.value(y0 - M), y2=alt.value(y1 - M)))

def hline(x0, x1, y, color, sw=1):
    L.append(alt.Chart(ONE).mark_rule(color=color, strokeWidth=sw).encode(x=alt.value(x0 - M), x2=alt.value(x1 - M), y=alt.value(y - M)))

def txt(s, x, y, size=10.7, color="#222222", angle=90, align="center", bold=False, font=FONT):
    kw = dict(text=s, angle=angle, align=align, baseline="middle", fontSize=size, color=color, font=font)
    if bold:
        kw["fontWeight"] = "bold"
    L.append(alt.Chart(ONE).mark_text(**kw).encode(x=alt.value(x - M), y=alt.value(y - M)))

def frame(rows):
    return pd.DataFrame(rows, columns=["d", "v"])

def line(series, scale, color, sw=1.0, opacity=1.0):
    L.append(alt.Chart(frame(series)).mark_line(color=color, strokeWidth=sw, opacity=opacity).encode(x=X(), y=alt.Y("v:Q", scale=scale, axis=None)))

def area(series, scale, base, color):
    df = frame(series)
    df["b"] = base
    L.append(alt.Chart(df).mark_area(color=color, orient="vertical", opacity=1, line=False).encode(x=X(), y=alt.Y("v:Q", scale=scale, axis=None), y2=alt.Y2("b")))

DEC10 = list(range(1650, 2151, 10))
DEC25 = list(range(1650, 2151, 25))

def vgrid(row):
    t, b = ROW[row]
    L.append(alt.Chart(pd.DataFrame({"d": DEC10})).mark_rule(color="#e3e3e3", strokeWidth=1).encode(x=X(), y=alt.value(t - M), y2=alt.value(b - M)))
    L.append(alt.Chart(pd.DataFrame({"d": DEC25})).mark_rule(color="#cdcdcd", strokeWidth=2).encode(x=X(), y=alt.value(t - M), y2=alt.value(b - M)))

def hgrid(vals, scale, color="#d8d8d8", sw=1):
    L.append(alt.Chart(pd.DataFrame({"v": vals})).mark_rule(color=color, strokeWidth=sw).encode(x=alt.value(P0 - M), x2=alt.value(P1 - M), y=alt.Y("v:Q", scale=scale, axis=None)))

def log_ticks(lo_decade, hi_decade):
    return [m * 10.0 ** e for e in range(lo_decade, hi_decade) for m in range(1, 10)]

# ---------- page frame ----------
rect(M, M + W, M, M + H, "#ffffff")
rect(M, 1702, 8, 13, "#1c3a5e")
rect(1702, 1706, 8, 1086, "#1c3a5e")
rect(8, 9.5, 8, 1086, "#1c3a5e")
rect(12, 1687, 30, 1085.5, "#ffffff", "#d2d2d2", 2)

# ---------- formations and zones ----------
for name, a, b, col, w in CIMAS:
    t, bo = ROW["cim"]
    df = pd.DataFrame({"d": [a], "e": [b]})
    L.append(alt.Chart(df).mark_rect(color=col).encode(x=X(), x2=X2("e"), y=alt.value(t - M), y2=alt.value(bo - M)))
    mid = pd.DataFrame({"d": [(a + b) / 2], "t": [name]})
    L.append(alt.Chart(mid).mark_rect(color="#ffffff", width=w, height=15).encode(x=X(), y=alt.value(49 - M)))
    L.append(alt.Chart(mid).mark_text(font=FONT, fontSize=9.8, color="#111111").encode(x=X(), y=alt.value(49 - M), text="t:N"))
for name, a, b, col in ZONAS:
    t, bo = ROW["zon"]
    df = pd.DataFrame({"d": [a], "e": [b]})
    L.append(alt.Chart(df).mark_rect(color=col).encode(x=X(), x2=X2("e"), y=alt.value(t - M), y2=alt.value(bo - M)))
    mid = pd.DataFrame({"d": [(a + b) / 2], "t": [name]})
    L.append(alt.Chart(mid).mark_rect(color="#eeeeee", width=9, height=8).encode(x=X(), y=alt.value(87 - M)))
    L.append(alt.Chart(mid).mark_text(font=FONT, fontSize=7, angle=90, color="#222222").encode(x=X(), y=alt.value(87 - M), text="t:N"))

# ---------- gamma ----------
gs = ys([0, 100], "gam")
vgrid("gam")
hgrid([20, 40, 60, 80], gs)
line(GR_ALL, gs, "#3f9a4f", 1.0, 0.9)

# ---------- depth / TVD columns ----------
df = pd.DataFrame({"d": DEPTH_LABELS, "t": [str(v) for v in DEPTH_LABELS]})
L.append(alt.Chart(df).mark_text(font=FONT, fontSize=12.5, angle=90, color="#333333", baseline="middle").encode(x=X(), y=alt.value(276 - M), text="t:N"))
df = pd.DataFrame(TVD_LABELS, columns=["d", "t"])
L.append(alt.Chart(df).mark_text(font=FONT, fontSize=12.5, angle=90, color="#e8455e", baseline="middle").encode(x=X(), y=alt.value(315 - M), text="t:N"))

# ---------- resistivity ----------
rs = ys([0.2, 2000], "res", True)
vgrid("res")
hgrid(log_ticks(-1, 3) + [2000], rs, "#d4d4d4")
hgrid([1, 10, 100, 1000], rs, "#c4c4c4", 1.6)
line(RES_GREEN, rs, "#3c8c46", 1.0)
line(RES_BLACK, rs, "#222222", 1.0)
line(RES_ALL, rs, "#ee1c25", 1.1)

# ---------- porosity ----------
ds = ys([1.95, 2.95], "por")
dts = ys([140, 40], "por")
ns = ys([0.45, -0.15], "por")
vgrid("por")
hgrid([round(1.95 + 0.1 * i, 2) for i in range(1, 10)], ds, "#dedede")
hgrid([2.45], ds, "#c8c8c8", 2)
line(DEN, ds, "#4f9f5a", 1.0)
line(DT, dts, "#55c8ee", 1.1)
line(NPHI_ALL, ns, "#444444", 1.0)

# ---------- lithology ----------
ls = ys([0, 1], "lit")
ps = ys([1, 0], "lit")
t, bo = ROW["lit"]
rect(P0, P1, t, bo, "#bcbcf4")
PAT_D = [2150 - 2.14 * i for i in range(234)]
L.append(alt.Chart(pd.DataFrame({"d": PAT_D})).mark_rule(color="#eaeaff", strokeWidth=2).encode(x=X(), y=alt.value(t - M), y2=alt.value(bo - M)))
HV = [round(0.062 + 0.0745 * i, 3) for i in range(13)]
hgrid(HV, ls, "#4646e0", 1.3)
area(VCL, ls, 0, "#d2eccd")
vcl = np.array(VCL[::-1], dtype=float)
edge = np.interp(PAT_D, vcl[:, 0], vcl[:, 1])
df = pd.DataFrame({"d": PAT_D, "a": 0.0, "v": edge})
L.append(alt.Chart(df).mark_rule(color="#84c484", strokeWidth=1.5, strokeDash=[5, 3]).encode(x=X(), y=alt.Y("a:Q", scale=ls, axis=None), y2=alt.Y2("v")))
area(PHIE, ps, 0, "#ffffff")
df = pd.DataFrame(SAND, columns=["d", "e", "a", "c"])
L.append(alt.Chart(df).mark_rect(color="#d8c820").encode(x=X(), x2=X2("e"), y=alt.Y("a:Q", scale=ls, axis=None), y2=alt.Y2("c")))
line(PHIE, ps, "#555555", 0.9)
line(VCL, ls, "#2c2f66", 1.0, 0.85)

# ---------- saturation ----------
sc1 = ys([1, 0], "sa1")
sc2 = ys([1, 0], "sa2")
rect(P0, P1, *ROW["sa1"], "#e0ffff")
rect(P0, P1, *ROW["sa2"], "#e0ffff")
area(SW, sc1, 1, "#0b7a0b")
area(SWM, sc1, 0, "#000080")
line(SW, sc1, "#2d3d2d", 0.8, 0.7)
line(SWM, sc1, "#6a7088", 0.7, 0.8)
area(SW, sc2, 1, "#0b7a0b")
line(SW, sc2, "#2d3d2d", 0.8, 0.7)

# ---------- permeability ----------
ks = ys([0.1, 1000], "per", True)
vgrid("per")
hgrid(log_ticks(-1, 3), ks, "#d4d4d4")
hgrid([1, 10, 100], ks, "#c4c4c4", 1.6)
area(PERM, ks, 0.1, "#ff0000")

# ---------- marker line ----------
df = pd.DataFrame({"d": MARKER_DEPTH})
L.append(alt.Chart(df).mark_rule(color="#444444", strokeWidth=1).encode(x=X(), y=alt.value(0), y2=alt.value(328 - M)))
L.append(alt.Chart(df).mark_rule(color="#444444", strokeWidth=1).encode(x=X(), y=alt.value(345 - M), y2=alt.value(H)))

# ---------- separators and header bars ----------
BAR_NAMES = [("cim","Cimas"),("zon","Zona"),("gam","Gamma"),("dep","Profund"),("tvd","TVD"),("res","Resistividad"),
             ("por","Porosidad"),("lit","Litología"),("sa1","Saturación"),("sa2","Saturación"),("per","Permeabilidad")]
for off in (0, 1398.5):
    rect(226 + off, 242 + off, 31, 1085, "#1e90ff")
for key, name in BAR_NAMES:
    t, b = ROW[key]
    for x in (234, 1632.5):
        txt(name, x, (t + b) / 2, color="#0b3f86")
SEP_Y = [67.5, 106, 257.5, 296, 334.5, 485.5, 637, 751, 864.5, 978]
for y in SEP_Y:
    hline(12, 1640, y, "#d2d2d2", 2)
for x in (226, 243, 1412, 1624, 1640):
    vline(x, 31, 1085, "#d2d2d2", 1.5)

# ---------- track legends (left and right) ----------
LEGENDS = {
    "gam": [("GRGC (API)", "0.", "100.", "#55a860")],
    "res": [("R85O (OHMM)", "0.2", "2000.", "#8f8fd0"), ("R20O (OHMM)", "0.2", "2000.", "#6fb07a"), ("R30O (OHMM)", "0.2", "2000.", "#555555"),
            ("R40O (OHMM)", "0.2", "2000.", "#555555"), ("R80O (OHMM)", "0.2", "2000.", "#ee4050"), ("RTAO (OHMM)", "0.2", "2000.", "#ee7080")],
    "por": [("DEN (G/C3)", "1.95", "2.95", "#6fb07a"), ("DT35 (US/F)", "140.", "40.", "#8fd8f0"), ("NPHI (dec)", "0.45", "-0.15", "#777777")],
    "lit": [("V CL (Dec)", "0.", "1.", "#555555"), ("V Lime (dec)", "0.", "1.", "#555555"), ("V Dol (dec)", "0.", "1.", "#555555"),
            ("V Sand (dec)", "0.", "1.", "#555555"), ("PHIE (Dec)", "1.", "0.", "#555555")],
    "sa1": [("SWM (dec)", "1.", "0.", "#555555"), ("SW (Dec)", "1.", "0.", "#777777")],
    "sa2": [("SW (Dec)", "1.", "0.", "#555555")],
    "per": [("Perm (md)", "0.1", "1000.", "#ee7080")],
}
def tlen(s):
    return sum(3 if c == "." else 6 for c in s)
for off in (0, 1399):
    txt("Cimas", 216 + off, 49)
    txt("Zonas", 216 + off, 87)
    txt("DEPTH", 217 + off, 277)
    txt("(M)", 205 + off, 277)
    txt("TVD", 217 + off, 315)
    txt("(M)", 205 + off, 315)
    for key, entries in LEGENDS.items():
        t, b = ROW[key]
        for i, (name, lo, hi, col) in enumerate(entries):
            tx = 216 - 20.6 * i + off
            lx = 206.7 - 20.6 * i + off
            y0 = t + 4 + tlen(lo) + 2
            y1 = b - 4 - tlen(hi) - 2
            vline(lx, y0, y1, col, 1)
            txt(lo, lx, t + 4, align="left")
            txt(hi, lx, b - 4, align="right")
            txt(name, tx, (t + b) / 2)

    # lithology key
    y0, y1 = 643, 744
    rect(97.6 + off, 116 + off, y0, y1, "#d8efd3", "#aaaaaa")
    vline(103 + off, y0, y1, "#84c484", 1.5, [5, 3])
    vline(110 + off, y0, y1, "#84c484", 1.5, [5, 3])
    rect(101 + off, 113 + off, 680, 708, "#e6f5e2")
    txt("Shale", 106.8 + off, 694)
    rect(77.7 + off, 95.7 + off, y0, y1, "#bcbcf4", "#4646e0")
    vline(86.7 + off, y0, y1, "#4646e0", 18, [1.4, 7])
    vline(83 + off, y0, y1, "#4646e0", 1)
    vline(90 + off, y0, y1, "#4646e0", 1)
    rect(81 + off, 93 + off, 668, 720, "#d4d4fa")
    txt("Limestone", 86.7 + off, 694)
    rect(57.4 + off, 74.6 + off, y0, y1, "#c6e6c2", "#aaaaaa")
    vline(66 + off, y0, y1, "#2f9a3f", 15, [3, 5])
    rect(60 + off, 72 + off, 665, 723, "#e4f3e0")
    txt("Dolomite", 66 + off, 694)
    rect(37 + off, 55 + off, y0, y1, "#ffff00", "#aaaaaa")
    for dx in (41, 46, 51):
        vline(dx + off, y0 + 3, y1, "#111111", 2.6, [0.1, 9], "round")
    rect(41 + off, 52 + off, 662, 726, "#ffff40")
    txt("Sandstone", 46 + off, 694)
    rect(16.5 + off, 34.4 + off, y0, y1, "#ffffff", "#999999")
    txt("PHIE", 25.5 + off, 694)

    # saturation / permeability keys
    rect(161 + off, 178 + off, 757, 858, "#0b7a0b", "#999999")
    rect(163.5 + off, 175.5 + off, 773, 844, "#f5f5e8")
    txt("Hidrocarburo", 169.5 + off, 808)
    rect(140 + off, 158 + off, 757, 858, "#e0ffff", "#999999")
    txt("SW", 149 + off, 808)
    rect(119 + off, 137 + off, 757, 858, "#000080", "#999999")
    rect(122 + off, 134 + off, 796, 820, "#f0f0f0")
    txt("SWM", 128 + off, 808)
    rect(181 + off, 198 + off, 872, 972, "#0b7a0b", "#999999")
    rect(183.5 + off, 195.5 + off, 888, 956, "#f5f5e8")
    txt("Hidrocarburo", 189.5 + off, 922)
    rect(161 + off, 178 + off, 872, 972, "#e0ffff", "#999999")
    txt("Agua", 169.5 + off, 922)
    rect(181 + off, 198 + off, 985, 1080, "#ff0000", "#dd8888")
    rect(183.5 + off, 195.5 + off, 997, 1068, "#f5f0e8")
    txt("Permeabilidad", 189.5 + off, 1032)

# ---------- right-hand header ----------
txt("Scale : 1 : 1000", 1671, 86, size=13.5, bold=True, color="#111111")
txt("DB : Procesado (6)", 1652, 70, size=8.5, color="#333333")
txt("Pozo9", 1671, 562, size=15, bold=True, color="#111111")
txt("DEPTH (1650.03M - 2150.06M)", 1653, 561, size=11, color="#222222")
txt("26/10/2012 02:20", 1652, 1056, size=7.5, color="#333333")

chart = alt.layer(*L).resolve_scale(y="independent").properties(
    width=W, height=H, padding=0, autosize=alt.AutoSizeParams(type="none"), background="white"
).configure_view(stroke=None)

chart.save("out.html", embed_options={"renderer": "svg", "actions": False})
